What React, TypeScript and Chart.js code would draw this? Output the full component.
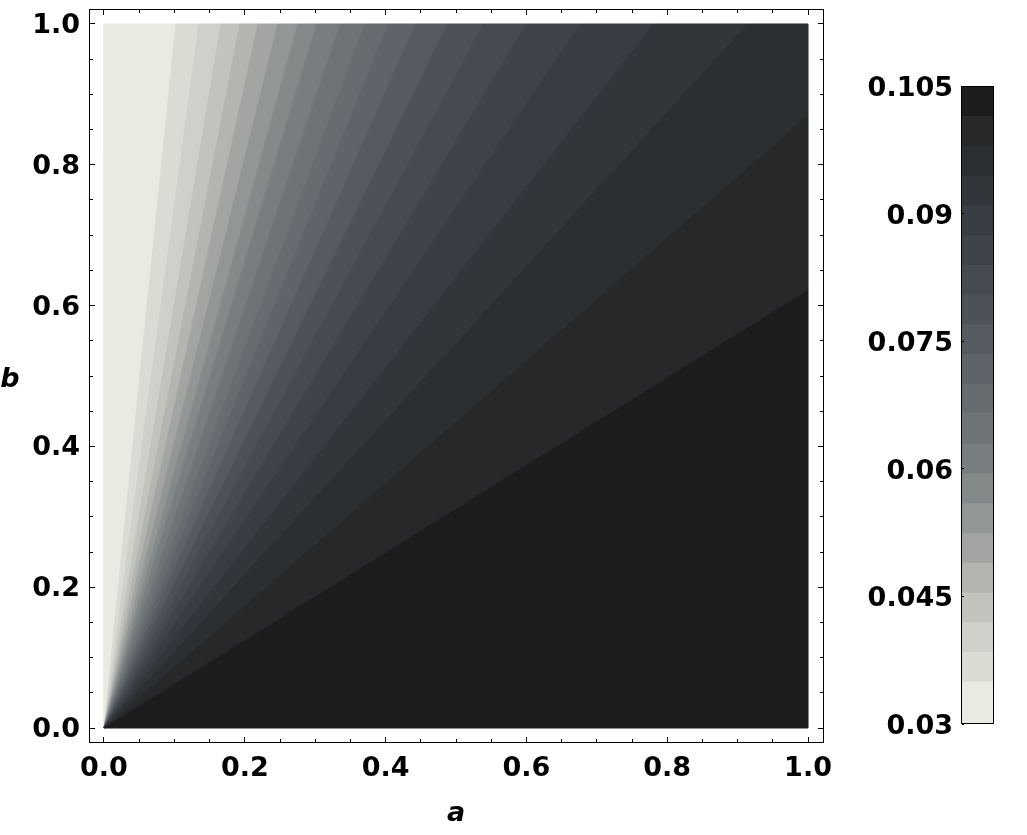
import React, { useEffect, useRef } from 'react';
import { Chart, registerables } from 'chart.js';

Chart.register(...registerables);

// Ratio b/a along each contour line (the function depends on b/a only), from the highest level down
const contourSlopes = [0.622, 0.871, 1.095, 1.282, 1.479, 1.668, 1.857, 2.05, 2.26, 2.48, 2.7, 2.98, 3.31, 3.63, 4.05, 4.57, 5.18, 6.02, 7.41, 9.78];
// Contour levels (band edges), highest first
const contourLevels = [0.105, 0.1015, 0.098, 0.0945, 0.091, 0.0875, 0.084, 0.0805, 0.077, 0.0735, 0.07, 0.0665, 0.063, 0.0595, 0.056, 0.0525, 0.049, 0.0455, 0.042, 0.0385, 0.035, 0.03];
// Band colours, highest level (darkest) first
const bandColors = [
  '#1c1c1c', '#27282a', '#2c2f32', '#32363a', '#383c43', '#3f434a', '#464b52', '#4d5259',
  '#555b61', '#5e6469', '#666c70', '#6e7476', '#787e80', '#84898a', '#929695', '#a2a5a2',
  '#b3b5b0', '#c2c3bd', '#ced0c9', '#dadbd3', '#e9eae1',
];
const axisTicks = [0, 0.2, 0.4, 0.6, 0.8, 1.0];
const minorTicks = [0.05, 0.1, 0.15, 0.25, 0.3, 0.35, 0.45, 0.5, 0.55, 0.65, 0.7, 0.75, 0.85, 0.9, 0.95];
const colorbarTicks = [0.03, 0.045, 0.06, 0.075, 0.09, 0.105];

const FONT = 'DejaVu Sans';

function hit(s: number) {
  if (!isFinite(s)) return { x: 0, y: 1 };
  if (s <= 1) return { x: 1, y: s };
  return { x: 1 / s, y: 1 };
}

function bandPolygon(lo: number, hi: number) {
  const pts = [{ x: 0, y: 0 }, hit(lo)];
  if (lo < 1 && hi > 1) pts.push({ x: 1, y: 1 });
  pts.push(hit(hi));
  pts.push({ x: 0, y: 0 });
  return pts;
}

const zeroPad = (s: any) => {
  s.paddingTop = 0;
  s.paddingBottom = 0;
  s.paddingLeft = 0;
  s.paddingRight = 0;
};

const framePlugin = {
  id: 'frame',
  afterDraw(chart: any) {
    const { ctx, chartArea } = chart;
    const { left, right, top, bottom } = chartArea;
    const xs = chart.scales.x;
    const ys = chart.scales.y;
    ctx.save();
    ctx.strokeStyle = '#000';
    ctx.lineWidth = 1;
    ctx.strokeRect(left + 0.5, top + 0.5, right - left - 1, bottom - top - 1);
    const drawTicks = (vals: number[], len: number) => {
      ctx.beginPath();
      vals.forEach((v) => {
        const px = Math.floor(xs.getPixelForValue(v)) + 0.5;
        ctx.moveTo(px, bottom - 1);
        ctx.lineTo(px, bottom - 1 - len);
        ctx.moveTo(px, top + 1);
        ctx.lineTo(px, top + 1 + len);
        const py = Math.floor(ys.getPixelForValue(v)) + 0.5;
        ctx.moveTo(left + 1, py);
        ctx.lineTo(left + 1 + len, py);
        ctx.moveTo(right - 1, py);
        ctx.lineTo(right - 1 - len, py);
      });
      ctx.stroke();
    };
    drawTicks(axisTicks, 5);
    drawTicks(minorTicks, 3);
    ctx.fillStyle = '#000';
    ctx.font = `italic bold 27px "${FONT}"`;
    ctx.textAlign = 'center';
    ctx.textBaseline = 'alphabetic';
    ctx.fillText('a', 456, 821);
    ctx.fillText('b', 10, 387);
    ctx.restore();
  },
};

const colorbarPlugin = {
  id: 'cbframe',
  afterDraw(chart: any) {
    const { ctx, chartArea } = chart;
    const { left, right, top, bottom } = chartArea;
    const ys = chart.scales.y;
    ctx.save();
    ctx.strokeStyle = '#000';
    ctx.lineWidth = 1;
    ctx.strokeRect(left + 0.5, top + 0.5, right - left - 1, bottom - top - 1);
    ctx.beginPath();
    colorbarTicks.forEach((v) => {
      const py = Math.floor(ys.getPixelForValue(v)) + 0.5;
      ctx.moveTo(left + 1, py);
      ctx.lineTo(left + 3, py);
    });
    ctx.stroke();
    ctx.restore();
  },
};

export default function App() {
  const mainRef = useRef<HTMLCanvasElement>(null);
  const cbRef = useRef<HTMLCanvasElement>(null);

  useEffect(() => {
    const tickFont = { family: FONT, weight: 'bold' as const, size: 27 };
    const datasets = bandColors.map((c, k) => {
      const lo = k === 0 ? 0 : contourSlopes[k - 1];
      const hi = k === bandColors.length - 1 ? Infinity : contourSlopes[k];
      return {
        data: bandPolygon(lo, hi),
        showLine: true,
        fill: 'shape',
        backgroundColor: c,
        borderColor: c,
        borderWidth: 1,
        pointRadius: 0,
        pointHoverRadius: 0,
        tension: 0,
      };
    });
    const main = new Chart(mainRef.current!, {
      type: 'scatter',
      data: { datasets: datasets as any },
      options: {
        responsive: false,
        animation: false,
        events: [],
        plugins: { legend: { display: false }, tooltip: { enabled: false } },
        layout: { padding: { top: 9, right: 16, left: 0, bottom: 0 } },
        scales: {
          x: {
            type: 'linear',
            min: -0.0213,
            max: 1.0227,
            grid: { display: false, drawTicks: false },
            border: { display: false },
            afterBuildTicks: (s: any) => {
              s.ticks = axisTicks.map((v) => ({ value: v }));
            },
            afterFit: (s: any) => {
              s.height = 92;
              zeroPad(s);
            },
            ticks: {
              padding: 10,
              color: '#000',
              font: tickFont,
              maxRotation: 0,
              autoSkip: false,
              callback: (v: any) => Number(v).toFixed(1),
            },
          },
          y: {
            type: 'linear',
            min: -0.0213,
            max: 1.0213,
            grid: { display: false, drawTicks: false },
            border: { display: false },
            afterBuildTicks: (s: any) => {
              s.ticks = axisTicks.map((v) => ({ value: v }));
            },
            afterFit: (s: any) => {
              s.width = 89;
              zeroPad(s);
            },
            ticks: {
              padding: 9,
              labelOffset: 2,
              color: '#000',
              font: tickFont,
              autoSkip: false,
              callback: (v: any) => Number(v).toFixed(1),
            },
          },
        },
      },
      plugins: [framePlugin],
    });

    const cb = new Chart(cbRef.current!, {
      type: 'bar',
      data: {
        labels: [''],
        datasets: bandColors.map((c, k) => ({
          data: [[contourLevels[k + 1], contourLevels[k]]],
          backgroundColor: c,
          borderWidth: 0,
          barPercentage: 1,
          categoryPercentage: 1,
          grouped: false,
        })) as any,
      },
      options: {
        responsive: false,
        animation: false,
        events: [],
        plugins: { legend: { display: false }, tooltip: { enabled: false } },
        layout: { padding: { top: 86, right: 33, left: 0, bottom: 111 } },
        scales: {
          x: { display: false },
          y: {
            type: 'linear',
            min: 0.03,
            max: 0.105,
            grid: { display: false, drawTicks: false },
            border: { display: false },
            afterBuildTicks: (s: any) => {
              s.ticks = colorbarTicks.map((v) => ({ value: v }));
            },
            afterFit: (s: any) => {
              s.width = 121;
              zeroPad(s);
            },
            ticks: {
              padding: 8,
              labelOffset: 3,
              color: '#000',
              font: tickFont,
              autoSkip: false,
              callback: (v: any) => String(v),
            },
          },
        },
      },
      plugins: [colorbarPlugin],
    });

    return () => {
      main.destroy();
      cb.destroy();
    };
  }, []);

  return (
    <div style={{ position: 'absolute', left: 0, top: 0, width: 1027, height: 835, background: '#fff' }}>
      <canvas ref={mainRef} width={840} height={835} style={{ position: 'absolute', left: 0, top: 0 }} />
      <canvas ref={cbRef} width={187} height={835} style={{ position: 'absolute', left: 840, top: 0 }} />
    </div>
  );
}
